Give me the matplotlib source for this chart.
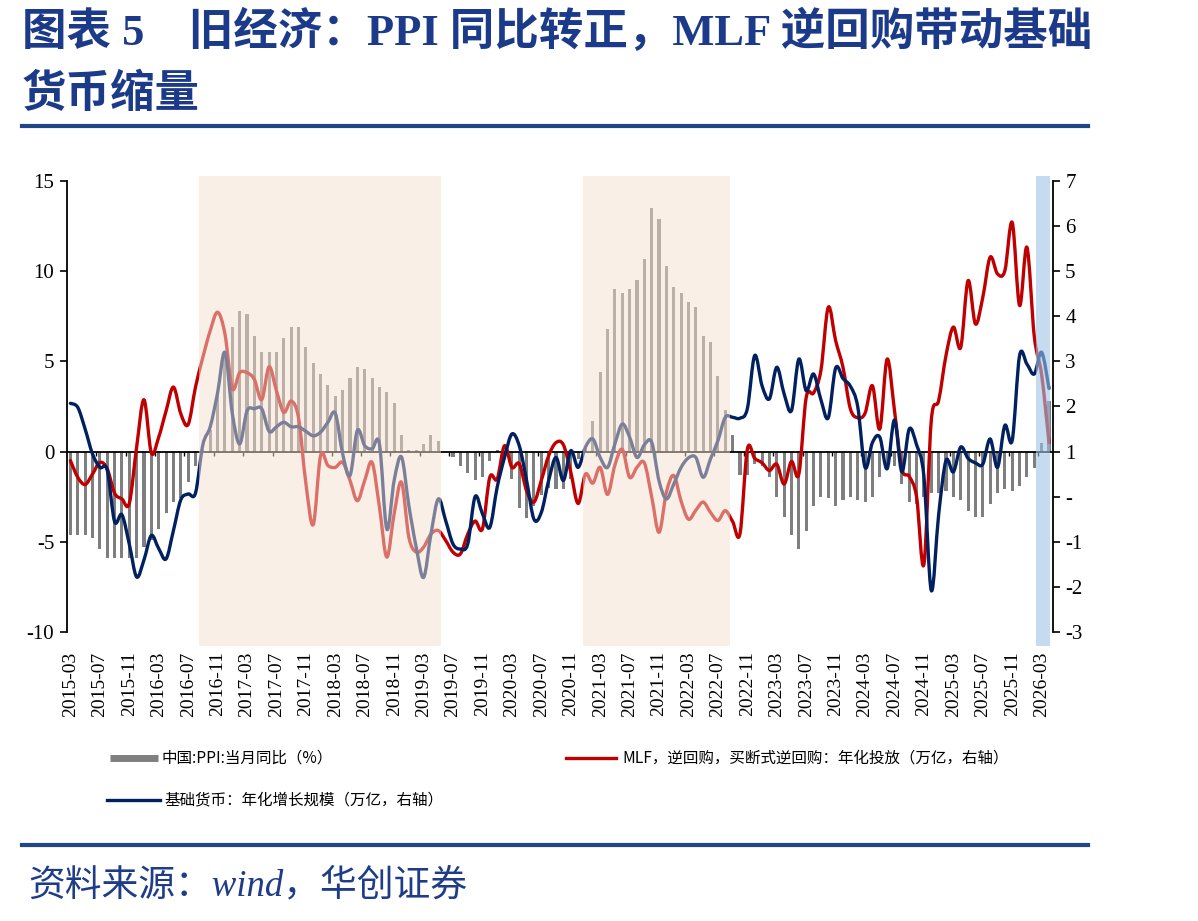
import numpy as np
import pandas as pd
import matplotlib
matplotlib.use('Agg')
import matplotlib.pyplot as plt
from matplotlib.lines import Line2D
from matplotlib.path import Path
from matplotlib.patches import PathPatch
from matplotlib.ticker import FuncFormatter

# 月份 2015-03 ~ 2026-04
months = pd.period_range('2015-03', '2026-04', freq='M').strftime('%Y-%m').tolist()

# 中国:PPI:当月同比(%)
ppi = [-4.6, -4.6, -4.6, -4.8, -5.4, -5.9, -5.9, -5.9, -5.9, -5.9,
       -5.3, -4.9, -4.3, -3.4, -2.8, -2.6, -1.7, -0.8, 0.1, 1.2, 3.3, 5.5,
       6.9, 7.8, 7.6, 6.4, 5.5, 5.5, 5.5, 6.3, 6.9, 6.9, 5.8, 4.9,
       4.3, 3.7, 3.1, 3.4, 4.1, 4.7, 4.6, 4.1, 3.6, 3.3, 2.7, 0.9,
       0.1, 0.1, 0.4, 0.9, 0.6, 0.0, -0.3, -0.8, -1.2, -1.6, -1.4, -0.5,
       0.1, -0.4, -1.5, -3.1, -3.7, -3.0, -2.4, -2.0, -2.1, -2.1, -1.5, -0.4,
       0.3, 1.7, 4.4, 6.8, 9.0, 8.8, 9.0, 9.5, 10.7, 13.5, 12.9, 10.3,
       9.1, 8.8, 8.3, 8.0, 6.4, 6.1, 4.2, 2.3, 0.9, -1.3, -1.3, -0.7,
       -0.8, -1.4, -2.5, -3.6, -4.6, -5.4, -4.4, -3.0, -2.5, -2.6, -3.0, -2.7,
       -2.5, -2.7, -2.8, -2.5, -1.4, -0.8, -0.8, -1.8, -2.8, -2.9, -2.5, -2.3,
       -2.3, -2.2, -2.5, -2.7, -3.3, -3.6, -3.6, -2.9, -2.3, -2.1, -2.2, -1.9,
       -1.4, -0.9, 0.5, 2.8]

# MLF，逆回购，买断式逆回购：年化投放（万亿，右轴）
mlf = [0.80, 0.43, 0.27, 0.50, 0.76, 0.62, 0.08, -0.05, -0.15, 1.10,
       2.15, 0.97, 1.32, 1.90, 2.43, 1.84, 1.60, 2.43, 3.09, 3.68,
       4.09, 3.61, 2.40, 2.75, 2.75, 2.60, 2.15, 2.88, 2.35, 1.87,
       2.12, 1.75, 0.30, -0.62, 0.91, 0.69, 0.65, 0.76, 0.36, -0.09,
       0.36, 0.76, -0.23, -1.34, -0.38, 0.32, -0.90, -1.23, -1.12, -0.83,
       -0.75, -0.97, -1.23, -1.27, -0.83, -0.54, -0.71, 0.43, 0.39, 1.13,
       0.65, 0.73, 0.13, -0.12, 0.36, 0.91, 1.20, 1.15, 0.55, -0.15,
       0.50, 0.30, 0.65, 0.05, 0.70, 1.05, 0.43, 0.65, 0.75, 0.00,
       -0.79, 0.10, 0.47, -0.10, -0.50, -0.30, -0.12, -0.35, -0.53, -0.31,
       -0.55, -0.82, 1.05, 0.85, 0.75, 0.58, 0.72, 0.28, 0.78, 0.50,
       2.20, 2.30, 2.80, 4.20, 3.46, 2.87, 1.95, 1.75, 1.85, 2.46,
       1.50, 3.05, 1.91, 0.62, 0.45, 0.00, -1.50, 1.69, 2.13, 3.13,
       3.76, 3.31, 4.79, 3.83, 4.42, 5.31, 4.94, 5.01, 6.08, 4.24,
       5.53, 3.55, 2.70, 1.20]

# 基础货币：年化增长规模（万亿，右轴）
base_money = [2.07, 1.98, 1.50, 0.95, 0.65, 0.59, -0.55, -0.40, -1.05, -1.78,
              -1.40, -0.86, -1.15, -1.38, -0.75, -0.07, 0.06, 0.08, 1.15, 1.55,
              2.30, 3.20, 1.85, 1.17, 1.90, 1.95, 1.95, 1.45, 1.55, 1.65,
              1.55, 1.55, 1.45, 1.35, 1.43, 1.65, 1.85, 0.95, 0.47, 1.47,
              1.13, 1.06, 1.17, -0.72, 0.36, 0.88, -0.20, -1.12, -1.79, -0.83,
              -0.05, -0.53, -1.05, -1.16, -1.05, 0.00, -0.38, -0.68, 0.21, 0.87,
              1.39, 1.13, 0.36, -0.50, -0.35, 0.36, 0.87, 0.36, 1.02, 0.65,
              1.10, 1.28, 0.87, 0.65, 1.17, 1.61, 1.32, 0.87, 1.15, 1.21,
              0.35, -0.05, 0.28, 0.65, 0.86, 0.87, 0.43, 0.84, 1.24, 1.76,
              1.76, 1.74, 1.95, 3.13, 2.46, 2.17, 2.87, 2.28, 1.91, 3.05,
              2.35, 2.72, 2.15, 1.75, 2.85, 2.62, 2.45, 2.00, 0.65, 1.20,
              1.32, 0.62, 1.70, 0.55, 1.50, 1.15, 0.45, -2.08, -0.40, 0.80,
              0.55, 1.10, 0.85, 0.75, 0.72, 1.28, 0.65, 1.58, 1.25, 3.13,
              2.94, 2.72, 3.20, 2.40]

# 阴影区间（月份序号）
shade_periods = [(17.5, 50.3), (69.7, 89.6)]
latest_period = (131.2, 133.1)


def smooth_path(xs, ys):
    # 平滑折线（类似excel平滑线），用三次贝塞尔连接各点
    pts = np.column_stack([xs, ys]).astype(float)
    n = len(pts)
    verts = [pts[0]]
    codes = [Path.MOVETO]
    for i in range(n - 1):
        p0 = pts[i - 1] if i > 0 else pts[i]
        p1 = pts[i]
        p2 = pts[i + 1]
        p3 = pts[i + 2] if i + 2 < n else pts[i + 1]
        verts += [p1 + (p2 - p0) / 6, p2 - (p3 - p1) / 6, p2]
        codes += [Path.CURVE4] * 3
    return Path(verts, codes)


plt.rcParams['font.family'] = ['Liberation Serif', 'Noto Sans CJK SC']
plt.rcParams['axes.unicode_minus'] = False

fig = plt.figure(figsize=(11.98, 9.21), dpi=100)
ax = fig.add_axes([0.0557, 0.3138, 0.8230, 0.4897])
ax2 = ax.twinx()

x = np.arange(len(months))
ax.bar(x, ppi, width=0.42, color='#7f7f7f', zorder=2)
ax.axhline(0, color='black', lw=1.3, zorder=3)
ax.vlines(np.arange(3.5, len(months), 4), -0.25, 0, color='black', lw=1, zorder=3)

ax2.add_patch(PathPatch(smooth_path(x, mlf), fill=False, edgecolor='#c00000',
                        lw=2.4, joinstyle='round', capstyle='round', zorder=2))
ax2.add_patch(PathPatch(smooth_path(x, base_money), fill=False, edgecolor='#002060',
                        lw=2.4, joinstyle='round', capstyle='round', zorder=2))

for a, b in shade_periods:
    ax2.axvspan(a, b, ymin=-0.03, ymax=1.012, color='#f7e1d1', alpha=0.5,
                lw=0, zorder=5, clip_on=False)
ax2.axvspan(latest_period[0], latest_period[1], ymin=-0.03, ymax=1.012,
            color='#9dc3e6', alpha=0.6, lw=0, zorder=5, clip_on=False)

ax.set_xlim(-0.5, len(months) - 0.5)
ax.set_ylim(-10, 15)
ax2.set_ylim(-3, 7)
ax.set_yticks(range(-10, 16, 5))
ax2.set_yticks(range(-3, 8))
ax2.yaxis.set_major_formatter(FuncFormatter(lambda v, p: '-' if v == 0 else '%d' % v))
ax.set_xticks(x[::4])
ax.set_xticklabels(months[::4])
ax.tick_params(axis='x', length=0, pad=14, labelrotation=90, labelsize=14)
ax.tick_params(axis='y', direction='out', length=5, width=1.2, labelsize=15, pad=4)
ax2.tick_params(axis='y', direction='out', length=5, width=1.2, labelsize=15, pad=4)

for s in ['top', 'bottom', 'right']:
    ax.spines[s].set_visible(False)
for s in ['top', 'bottom', 'left']:
    ax2.spines[s].set_visible(False)
ax.spines['left'].set_linewidth(1.3)
ax2.spines['right'].set_linewidth(1.3)

# 标题
title_c = '#1c3a8a'
fig.text(0.0184, 0.9653, '图表 5    旧经济：PPI 同比转正，MLF 逆回购带动基础',
         fontsize=32, fontweight='bold', color=title_c, va='center', ha='left')
fig.text(0.0184, 0.8969, '货币缩量', fontsize=32, fontweight='bold',
         color=title_c, va='center', ha='left')
fig.add_artist(Line2D([0.0184, 0.9082], [0.8632, 0.8632], color='#1f4788', lw=3,
                      transform=fig.transFigure))
fig.add_artist(Line2D([0.0184, 0.9082], [0.0825, 0.0825], color='#1f4788', lw=3,
                      transform=fig.transFigure))

# 图例
leg_font = ['Noto Sans CJK SC', 'DejaVu Sans']
fig.add_artist(Line2D([0.0918, 0.1319], [0.1770, 0.1770], color='#7f7f7f', lw=5,
                      solid_capstyle='butt', transform=fig.transFigure))
fig.text(0.1352, 0.1770, '中国:PPI:当月同比（%）', fontsize=11.2, family=leg_font,
         va='center', ha='left')
fig.add_artist(Line2D([0.4725, 0.5142], [0.1770, 0.1770], color='#c00000', lw=2.4,
                      transform=fig.transFigure))
fig.text(0.5192, 0.1770, 'MLF，逆回购，买断式逆回购：年化投放（万亿，右轴）',
         fontsize=11.2, family=leg_font, va='center', ha='left')
fig.add_artist(Line2D([0.0893, 0.1336], [0.1314, 0.1314], color='#002060', lw=2.4,
                      transform=fig.transFigure))
fig.text(0.1369, 0.1314, '基础货币：年化增长规模（万亿，右轴）', fontsize=11.2,
         family=leg_font, va='center', ha='left')

# 资料来源
fig.text(0.0234, 0.038, '资料来源：wind，华创证券', fontsize=26.5, style='italic',
         color='#1f3c88', va='center', ha='left')

fig.savefig('out.png', dpi=100, facecolor='white')
